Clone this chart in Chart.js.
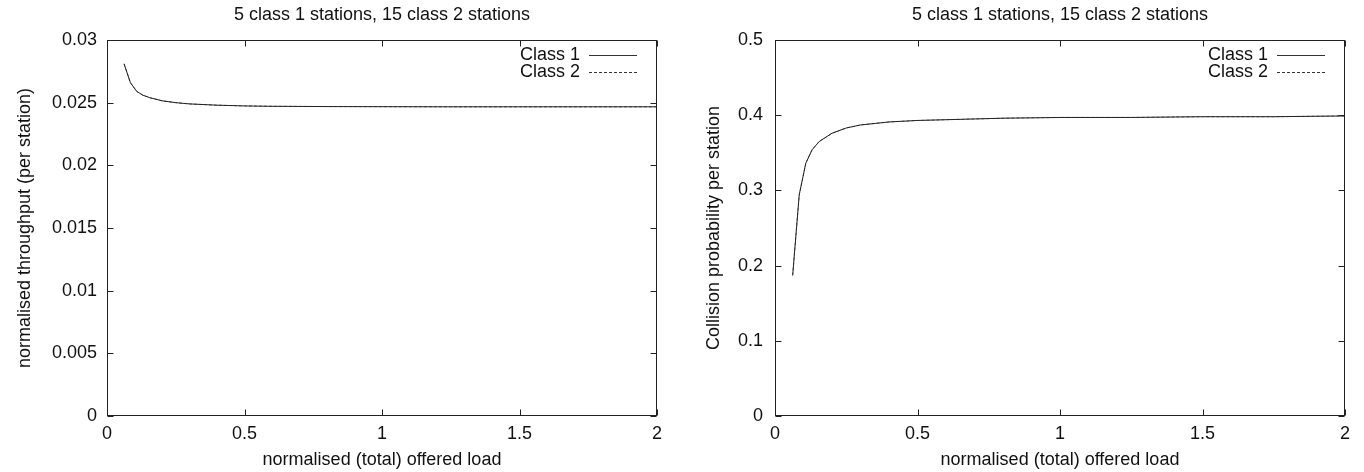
<!DOCTYPE html>
<html>
<head>
<meta charset="utf-8">
<script src="https://cdn.jsdelivr.net/npm/chart.js@4/dist/chart.umd.min.js"></script>
<style>
  body { margin: 0; background: #fff; }
  .wrap { position: absolute; top: 0; width: 682px; height: 472px; }
  #leftWrap { left: 0; }
  #rightWrap { left: 682px; }
</style>
</head>
<body>
<div class="wrap" id="leftWrap"><canvas id="throughputChart" width="682" height="472"></canvas></div>
<div class="wrap" id="rightWrap"><canvas id="collisionChart" width="682" height="472"></canvas></div>
<script>
// offered load (x) shared by both plots
const offeredLoad = [0.062, 0.085, 0.108, 0.13, 0.155, 0.2, 0.25, 0.3, 0.4, 0.5, 0.6, 0.8, 1, 1.25, 1.5, 1.75, 2];

const throughputClass1 = [0.0281, 0.0266, 0.0259, 0.0256, 0.0254, 0.02515, 0.025, 0.0249, 0.0248, 0.02474, 0.02471, 0.02469, 0.02468, 0.02467, 0.02467, 0.02467, 0.02467];
const throughputClass2 = [0.0281, 0.0266, 0.0259, 0.0256, 0.0254, 0.02515, 0.025, 0.0249, 0.0248, 0.02474, 0.02471, 0.02469, 0.02468, 0.02467, 0.02467, 0.02467, 0.02467];

const collisionClass1 = [0.187, 0.294, 0.336, 0.354, 0.365, 0.376, 0.383, 0.387, 0.391, 0.393, 0.394, 0.396, 0.397, 0.397, 0.398, 0.398, 0.399];
const collisionClass2 = [0.187, 0.294, 0.336, 0.354, 0.365, 0.376, 0.383, 0.387, 0.391, 0.393, 0.394, 0.396, 0.397, 0.397, 0.398, 0.398, 0.399];

const xTicks = [0, 0.5, 1, 1.5, 2];
const throughputTicks = [0, 0.005, 0.01, 0.015, 0.02, 0.025, 0.03];
const collisionTicks = [0, 0.1, 0.2, 0.3, 0.4, 0.5];

const seriesLabels = ['Class 1', 'Class 2'];
const plotTitle = '5 class 1 stations, 15 class 2 stations';
const xTitle = 'normalised (total) offered load';

const FONT = 'Liberation Sans, Arial, Helvetica, sans-serif';
const FSIZE = 18;
const INK = '#111';

function toPoints(ys) {
    return offeredLoad.map((x, i) => ({ x: x, y: ys[i] }));
}

// gnuplot style box, inward ticks on all sides, and legend inside top right
const gnuplotFrame = {
    id: 'gnuplotFrame',
    afterDatasetsDraw(chart) {
        const { ctx, chartArea: a, scales } = chart;
        const L = Math.round(a.left) + 0.5;
        const R = Math.round(a.right) - 0.5;
        const T = Math.round(a.top) + 0.5;
        const B = Math.round(a.bottom) - 0.5;
        const tl = 6;
        ctx.save();
        ctx.strokeStyle = '#222';
        ctx.lineWidth = 1;
        ctx.setLineDash([]);
        ctx.strokeRect(L, T, R - L, B - T);
        ctx.beginPath();
        scales.x.ticks.forEach(t => {
            const px = Math.round(scales.x.getPixelForValue(t.value)) + 0.5;
            ctx.moveTo(px, B); ctx.lineTo(px, B - tl);
            ctx.moveTo(px, T); ctx.lineTo(px, T + tl);
        });
        scales.y.ticks.forEach(t => {
            const py = Math.round(scales.y.getPixelForValue(t.value)) + 0.5;
            ctx.moveTo(L, py); ctx.lineTo(L + tl, py);
            ctx.moveTo(R, py); ctx.lineTo(R - tl, py);
        });
        ctx.stroke();

        // legend
        ctx.font = FSIZE + 'px ' + FONT;
        ctx.textAlign = 'right';
        ctx.textBaseline = 'middle';
        chart.data.datasets.forEach((ds, i) => {
            const y = Math.round(a.top + 15 + i * 16.7) + 0.5;
            const sampleEnd = a.right - 20;
            const sampleStart = sampleEnd - 48;
            ctx.fillStyle = INK;
            ctx.fillText(ds.label, sampleStart - 9, y);
            ctx.strokeStyle = '#333';
            ctx.setLineDash(ds.borderDash || []);
            ctx.beginPath();
            ctx.moveTo(sampleStart, y);
            ctx.lineTo(sampleEnd, y);
            ctx.stroke();
        });
        ctx.restore();
    }
};

function makeChart(canvasId, cfg) {
    const ctx = document.getElementById(canvasId).getContext('2d');
    return new Chart(ctx, {
        type: 'line',
        data: {
            datasets: [
                {
                    label: seriesLabels[0],
                    data: toPoints(cfg.class1),
                    borderColor: '#222',
                    borderWidth: 1,
                    pointRadius: 0,
                    tension: 0,
                    fill: false
                },
                {
                    label: seriesLabels[1],
                    data: toPoints(cfg.class2),
                    borderColor: '#666',
                    borderWidth: 1,
                    borderDash: [3, 2],
                    pointRadius: 0,
                    tension: 0,
                    fill: false
                }
            ]
        },
        options: {
            responsive: false,
            animation: false,
            devicePixelRatio: 1,
            layout: { padding: { top: 0, right: cfg.rightPad, bottom: 0, left: 0 } },
            plugins: {
                legend: { display: false },
                tooltip: { enabled: false },
                title: {
                    display: true,
                    text: plotTitle,
                    fullSize: false,
                    color: INK,
                    font: { family: FONT, size: FSIZE, weight: 'normal' },
                    padding: { top: 4.2, bottom: 14.2 }
                }
            },
            scales: {
                x: {
                    type: 'linear',
                    min: 0,
                    max: 2,
                    afterBuildTicks: axis => { axis.ticks = xTicks.map(v => ({ value: v })); },
                    afterFit: axis => { axis.height = 56; },
                    grid: { display: false, drawTicks: false },
                    border: { display: false },
                    ticks: {
                        color: INK,
                        padding: 7,
                        maxRotation: 0,
                        font: { family: FONT, size: FSIZE },
                        callback: v => String(v)
                    },
                    title: {
                        display: true,
                        text: xTitle,
                        color: INK,
                        font: { family: FONT, size: FSIZE },
                        padding: { top: 0, bottom: 1 }
                    }
                },
                y: {
                    type: 'linear',
                    min: 0,
                    max: cfg.yMax,
                    afterBuildTicks: axis => { axis.ticks = cfg.yTicks.map(v => ({ value: v })); },
                    afterFit: axis => { axis.width = cfg.yWidth; },
                    grid: { display: false, drawTicks: false },
                    border: { display: false },
                    ticks: {
                        color: INK,
                        padding: cfg.tickPad,
                        font: { family: FONT, size: FSIZE },
                        callback: v => String(v)
                    },
                    title: {
                        display: true,
                        text: cfg.yTitle,
                        color: INK,
                        font: { family: FONT, size: FSIZE },
                        padding: { top: cfg.titlePad, bottom: 0 }
                    }
                }
            }
        },
        plugins: [gnuplotFrame]
    });
}

makeChart('throughputChart', {
    class1: throughputClass1,
    class2: throughputClass2,
    yMax: 0.03,
    yTicks: throughputTicks,
    yTitle: 'normalised throughput (per station)',
    yWidth: 107,
    tickPad: 10,
    titlePad: 14.7,
    rightPad: 25
});

makeChart('collisionChart', {
    class1: collisionClass1,
    class2: collisionClass2,
    yMax: 0.5,
    yTicks: collisionTicks,
    yTitle: 'Collision probability per station',
    yWidth: 93,
    tickPad: 12,
    titlePad: 21.2,
    rightPad: 19
});
</script>
</body>
</html>
